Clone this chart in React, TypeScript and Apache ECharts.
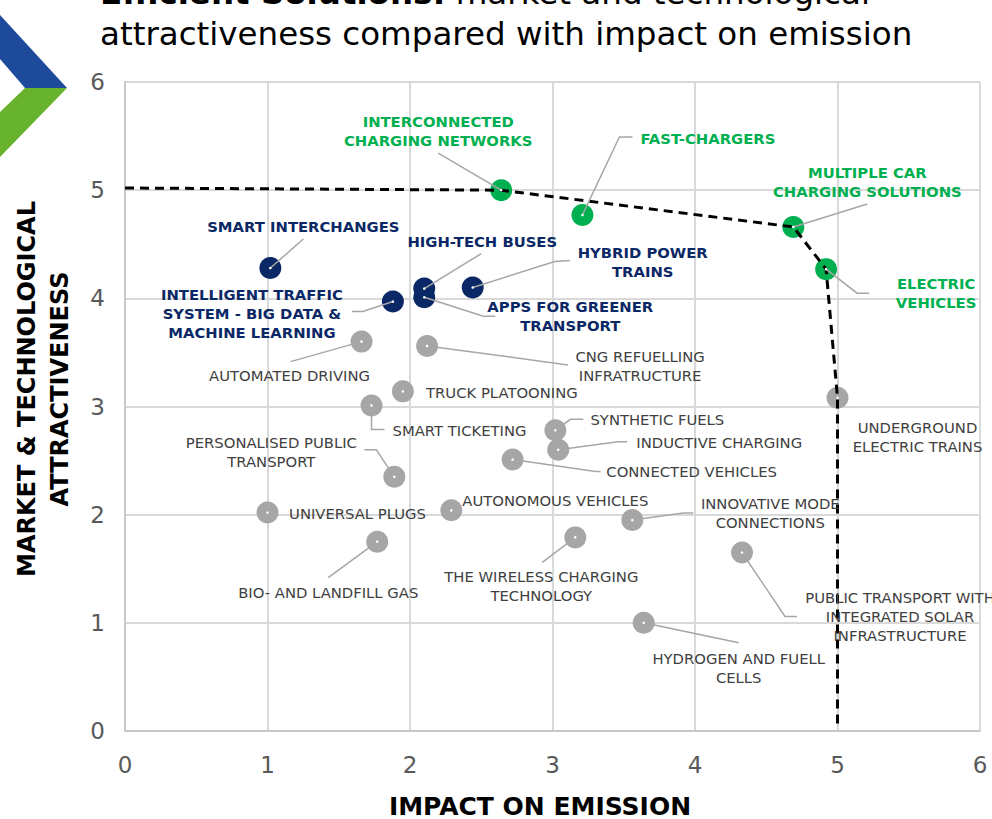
import React, { useEffect, useRef } from "react";
import * as echarts from "echarts";

// Solutions plotted by impact on emission (x) and market & technological attractiveness (y)
const names = [
  "SMART INTERCHANGES",
  "INTELLIGENT TRAFFIC\nSYSTEM - BIG DATA &\nMACHINE LEARNING",
  "HIGH-TECH BUSES",
  "APPS FOR GREENER\nTRANSPORT",
  "HYBRID POWER\nTRAINS",
  "INTERCONNECTED\nCHARGING NETWORKS",
  "FAST-CHARGERS",
  "MULTIPLE CAR\nCHARGING SOLUTIONS",
  "ELECTRIC\nVEHICLES",
  "AUTOMATED DRIVING",
  "CNG REFUELLING\nINFRATRUCTURE",
  "TRUCK PLATOONING",
  "SMART TICKETING",
  "PERSONALISED PUBLIC\nTRANSPORT",
  "UNIVERSAL PLUGS",
  "AUTONOMOUS VEHICLES",
  "BIO- AND LANDFILL GAS",
  "SYNTHETIC FUELS",
  "INDUCTIVE CHARGING",
  "CONNECTED VEHICLES",
  "THE WIRELESS CHARGING\nTECHNOLOGY",
  "INNOVATIVE MODE\nCONNECTIONS",
  "PUBLIC TRANSPORT WITH\nINTEGRATED SOLAR\nINFRASTRUCTURE",
  "HYDROGEN AND FUELL\nCELLS",
  "UNDERGROUND\nELECTRIC TRAINS",
];

const impact = [
  1.02, 1.88, 2.1, 2.1, 2.44, 2.64, 3.21, 4.69, 4.92, 1.66, 2.12, 1.95, 1.73,
  1.89, 1.0, 2.29, 1.77, 3.02, 3.04, 2.72, 3.16, 3.56, 4.33, 3.64, 5.0,
];

const attractiveness = [
  4.28, 3.97, 4.09, 4.01, 4.1, 5.0, 4.77, 4.66, 4.27, 3.6, 3.56, 3.14, 3.01,
  2.35, 2.02, 2.04, 1.75, 2.78, 2.6, 2.51, 1.79, 1.95, 1.65, 1.0, 3.08,
];

// "smart" = smart mobility, "charging" = charging / electric, "other" = remaining solutions
const groups = [
  "smart", "smart", "smart", "smart", "smart",
  "charging", "charging", "charging", "charging",
  "other", "other", "other", "other", "other", "other", "other", "other",
  "other", "other", "other", "other", "other", "other", "other", "other",
];

// Frontier of the most attractive / highest impact solutions
const frontierImpact = [0, 2.64, 4.69, 4.92, 5.0, 5.0];
const frontierAttractiveness = [5.02, 5.0, 4.66, 4.27, 3.08, 0.03];

const axisTicks = [0, 1, 2, 3, 4, 5, 6];

const groupColors: Record<string, string> = {
  smart: "#0b2866",
  charging: "#00b050",
  other: "#a6a6a6",
};
const groupTextColors: Record<string, string> = {
  smart: "#0b2866",
  charging: "#00b050",
  other: "#404040",
};

// Label placement in pixels relative to each marker: label centre and leader-line bends
type Placement = { label: [number, number]; align?: string; leader?: [number, number][] };
const placements: Placement[] = [
  { label: [33, -42], leader: [[33, -29]] },
  { label: [-141, 12], leader: [[-30, 10], [-41, 10]] },
  { label: [58, -47], leader: [[57, -35]] },
  { label: [146, 19], leader: [[59, 19], [71, 19]] },
  { label: [170, -26], leader: [[82, -26], [97, -27]] },
  { label: [-63, -59], leader: [[-63, -37]] },
  { label: [58, -77], align: "left", leader: [[37, -78], [50, -78]] },
  { label: [74, -45], leader: [[74, -23]] },
  { label: [110, 24], leader: [[31, 24], [43, 24]] },
  { label: [-72, 34], leader: [[-71, 20]] },
  { label: [213, 20], leader: [[141, 19]] },
  { label: [99, 1] },
  { label: [88, 25], leader: [[0, 24], [13, 24]] },
  { label: [-123, -25], leader: [[-18, -27], [-30, -27]] },
  { label: [90, 1] },
  { label: [104, -10] },
  { label: [-49, 51], leader: [[-49, 36]] },
  { label: [102, -11], leader: [[15, -11], [28, -11]] },
  { label: [161, -7], leader: [[60, -8], [69, -8]] },
  { label: [179, 12], leader: [[83, 12], [88, 12]] },
  { label: [-34, 49], leader: [[-33, 25]] },
  { label: [138, -7], leader: [[51, -7], [61, -7]] },
  { label: [158, 64], leader: [[43, 64], [55, 64]] },
  { label: [95, 45], leader: [[95, 20]] },
  { label: [80, 39] },
];

const FONT = "DejaVu Sans";

export default function App() {
  const ref = useRef<HTMLDivElement>(null);

  useEffect(() => {
    if (!ref.current) return;
    const chart = echarts.init(ref.current, undefined, { renderer: "svg" });

    const points = impact.map((x, i) => [x, attractiveness[i], i]);

    const axisCommon = {
      type: "value" as const,
      min: axisTicks[0],
      max: axisTicks[axisTicks.length - 1],
      interval: 1,
      axisLine: { show: true, lineStyle: { color: "#c8c8c8", width: 2 } },
      axisTick: { show: false },
      splitLine: { show: true, lineStyle: { color: "#d9d9d9", width: 2 } },
      axisLabel: { color: "#595959", fontSize: 23, fontFamily: FONT },
    };

    chart.setOption({
      animation: false,
      grid: { left: 125, right: 12, top: 82, bottom: 88 },
      xAxis: { ...axisCommon, axisLabel: { ...axisCommon.axisLabel, margin: 22 } },
      yAxis: { ...axisCommon, axisLabel: { ...axisCommon.axisLabel, margin: 20 } },
      graphic: [
        {
          type: "polygon",
          shape: { points: [[0, 15], [67, 88], [25, 88], [0, 59]] },
          style: { fill: "#1d4a9b" },
        },
        {
          type: "polygon",
          shape: { points: [[25, 88], [67, 88], [0, 157], [0, 112]] },
          style: { fill: "#68b32e" },
        },
        {
          type: "text",
          x: 100,
          y: -7,
          style: {
            text: "{b|Efficient Solutions:} market and technological",
            rich: { b: { fontWeight: "bold", fontSize: 32.5, fontFamily: FONT, fill: "#000" } },
            fontSize: 32.5,
            fontFamily: FONT,
            fill: "#000",
            verticalAlign: "middle",
          },
        },
        {
          type: "text",
          x: 100,
          y: 34,
          style: {
            text: "attractiveness compared with impact on emission",
            fontSize: 32.5,
            fontFamily: FONT,
            fill: "#000",
            verticalAlign: "middle",
          },
        },
        {
          type: "text",
          x: 540,
          y: 806,
          style: {
            text: "IMPACT ON EMISSION",
            fontSize: 25,
            fontWeight: "bold",
            fontFamily: FONT,
            fill: "#000",
            align: "center",
            verticalAlign: "middle",
          },
        },
        {
          type: "text",
          x: 43,
          y: 389,
          rotation: Math.PI / 2,
          style: {
            text: "MARKET & TECHNOLOGICAL\nATTRACTIVENESS",
            fontSize: 24,
            fontWeight: "bold",
            fontFamily: FONT,
            fill: "#000",
            align: "center",
            verticalAlign: "middle",
            lineHeight: 33,
          },
        },
      ],
      series: [
        {
          type: "scatter",
          data: points,
          symbolSize: 22,
          itemStyle: {
            color: (p: any) => groupColors[groups[p.dataIndex]],
            opacity: 1,
          },
          z: 2,
          silent: true,
        },
        {
          type: "line",
          data: frontierImpact.map((x, i) => [x, frontierAttractiveness[i]]),
          symbol: "none",
          lineStyle: { color: "#000", width: 3, type: [9, 6] },
          z: 3,
          silent: true,
        },
        {
          type: "custom",
          data: points,
          clip: false,
          silent: true,
          z: 4,
          renderItem: (params: any, api: any) => {
            const i = params.dataIndex;
            const pt = api.coord([api.value(0), api.value(1)]);
            const place = placements[i];
            const group = groups[i];
            const children: any[] = [];
            if (place.leader) {
              children.push({
                type: "polyline",
                shape: {
                  points: [pt, ...place.leader.map(([dx, dy]) => [pt[0] + dx, pt[1] + dy])],
                },
                style: { stroke: "#a6a6a6", lineWidth: 1.5, fill: "none" },
              });
            }
            children.push({
              type: "circle",
              shape: { cx: pt[0], cy: pt[1], r: 1.3 },
              style: { fill: "#ffffff" },
            });
            children.push({
              type: "text",
              x: pt[0] + place.label[0],
              y: pt[1] + place.label[1],
              style: {
                text: names[i],
                align: place.align || "center",
                verticalAlign: "middle",
                fill: groupTextColors[group],
                fontSize: 14.8,
                fontWeight: group === "other" ? "normal" : "bold",
                fontFamily: FONT,
                lineHeight: 19,
              },
            });
            return { type: "group", children };
          },
        },
      ],
    });

    return () => chart.dispose();
  }, []);

  return (
    <div
      ref={ref}
      style={{ position: "absolute", left: 0, top: 0, width: 992, height: 819, background: "#fff" }}
    />
  );
}
